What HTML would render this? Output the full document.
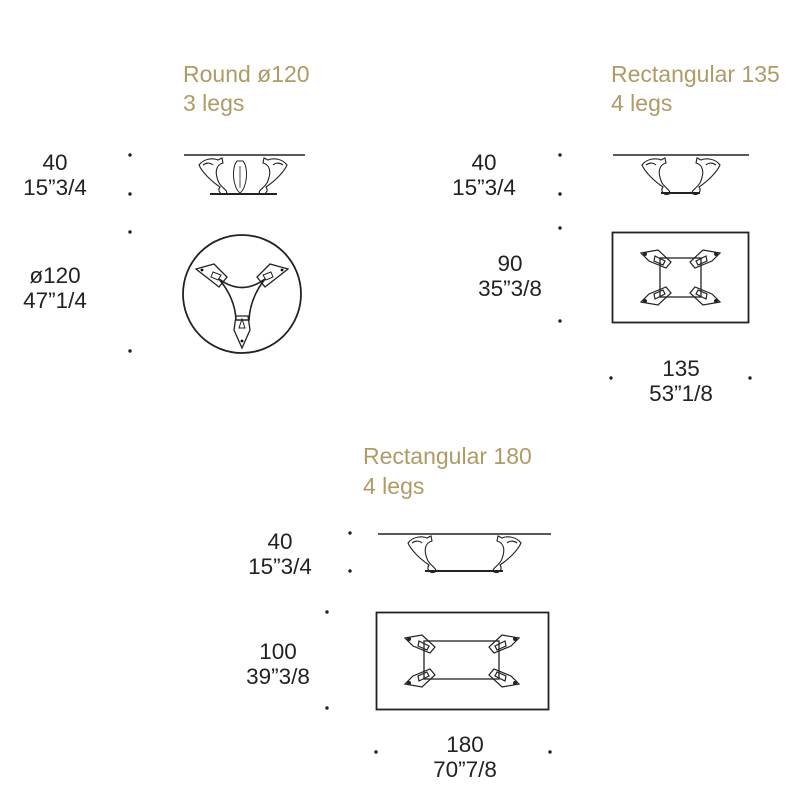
<!DOCTYPE html>
<html><head><style>
html,body{margin:0;padding:0;background:#fff;}
svg{display:block}
.g{font-family:"Liberation Sans",sans-serif;font-size:23px;fill:#b09a66}
.d{font-family:"Liberation Sans",sans-serif;font-size:22.5px;fill:#222;text-anchor:middle}
</style></head><body>
<svg width="800" height="800" viewBox="0 0 800 800" xmlns="http://www.w3.org/2000/svg">
<defs>
<g id="leg" fill="none" stroke="#222" stroke-width="1.1">
<path d="M1,8 C6,1 16,1 20,3 L24,1 L25,6 C18,8 16,15 21,26 C25,32 31,34 28,37 C23,39 19,34 22,30 C13,24 4,15 1,8 Z"/>
<path d="M5,8 C9,5 13,6 15,8"/>
</g>
<g id="tl" fill="none" stroke="#222" stroke-width="1.2">
<path d="M0,3 L17,0 L30,12 L25,18 L8,11 Z"/>
<path d="M14,6 L24,11 L22,15 L13,11 Z"/>
<circle cx="4" cy="4" r="1.4" fill="#222"/>
</g>
</defs>

<!-- Round -->
<text class="g" x="183" y="82">Round ø120</text>
<text class="g" x="183" y="111">3 legs</text>
<text class="d" x="55" y="170">40</text>
<text class="d" x="55" y="195">15”3/4</text>
<text class="d" x="55" y="283">ø120</text>
<text class="d" x="55" y="308">47”1/4</text>
<g fill="#222">
<circle cx="130" cy="155" r="1.7"/><circle cx="130" cy="194" r="1.7"/>
<circle cx="130" cy="232" r="1.7"/><circle cx="130" cy="351" r="1.7"/>
</g>
<line x1="184" y1="155" x2="305" y2="155" stroke="#222" stroke-width="1.6"/>
<line x1="210" y1="194" x2="277" y2="194" stroke="#222" stroke-width="2"/>
<use href="#leg" x="198" y="157"/>
<use href="#leg" transform="translate(288,157) scale(-1,1)"/>
<path d="M237,161 C231,168 233,188 240,193 C247,188 249,168 243,161 Z" fill="none" stroke="#222"/>
<path d="M240,166 L240,188" stroke="#222" stroke-width="0.8"/>
<circle cx="242" cy="294" r="59" fill="none" stroke="#222" stroke-width="1.8"/>
<path d="M219,279 Q242,296 265,279 Q250,298 249,320 L236,320 Q235,298 219,279 Z" fill="none" stroke="#222" stroke-width="1.6"/>
<path d="M196,269 L214,264 L227,277 L219,287 Z" fill="none" stroke="#222" stroke-width="1.3"/>
<path d="M213,272 L221,275 L218,280 L211,277 Z" fill="none" stroke="#222" stroke-width="1"/>
<path d="M288,269 L270,264 L257,277 L265,287 Z" fill="none" stroke="#222" stroke-width="1.3"/>
<path d="M271,272 L263,275 L266,280 L273,277 Z" fill="none" stroke="#222" stroke-width="1"/>
<path d="M242,348 L234,330 L236,316 L248,316 L250,330 Z" fill="none" stroke="#222" stroke-width="1.3"/>
<path d="M242,319 L239,328 L245,328 Z" fill="none" stroke="#222" stroke-width="1"/>
<circle cx="202" cy="270" r="1.4"/><circle cx="282" cy="270" r="1.4"/><circle cx="242" cy="341" r="1.4"/>

<!-- Rect 135 -->
<text class="g" x="611" y="82">Rectangular 135</text>
<text class="g" x="611" y="111">4 legs</text>
<text class="d" x="484" y="170">40</text>
<text class="d" x="484" y="195">15”3/4</text>
<text class="d" x="510" y="271">90</text>
<text class="d" x="510" y="296">35”3/8</text>
<text class="d" x="681" y="376">135</text>
<text class="d" x="681" y="401">53”1/8</text>
<g fill="#222">
<circle cx="560" cy="155" r="1.7"/><circle cx="560" cy="194" r="1.7"/>
<circle cx="560" cy="228" r="1.7"/><circle cx="560" cy="321" r="1.7"/>
<circle cx="611" cy="378" r="1.7"/><circle cx="750" cy="378" r="1.7"/>
</g>
<line x1="613" y1="155" x2="749" y2="155" stroke="#222" stroke-width="1.6"/>
<line x1="661" y1="193" x2="700" y2="193" stroke="#222" stroke-width="2"/>
<use href="#leg" x="641" y="157"/>
<use href="#leg" transform="translate(721,157) scale(-1,1)"/>
<rect x="612.5" y="232.5" width="136" height="90" fill="none" stroke="#222" stroke-width="1.8"/>
<rect x="660" y="258" width="41" height="39" fill="none" stroke="#222" stroke-width="1.3"/>
<use href="#tl" x="641" y="250"/>
<use href="#tl" transform="translate(720,250) scale(-1,1)"/>
<use href="#tl" transform="translate(641,305) scale(1,-1)"/>
<use href="#tl" transform="translate(720,305) scale(-1,-1)"/>

<!-- Rect 180 -->
<text class="g" x="363" y="464">Rectangular 180</text>
<text class="g" x="363" y="494">4 legs</text>
<text class="d" x="280" y="549">40</text>
<text class="d" x="280" y="574">15”3/4</text>
<text class="d" x="278" y="659">100</text>
<text class="d" x="278" y="684">39”3/8</text>
<text class="d" x="465" y="752">180</text>
<text class="d" x="465" y="777">70”7/8</text>
<g fill="#222">
<circle cx="350" cy="533" r="1.7"/><circle cx="350" cy="571" r="1.7"/>
<circle cx="327" cy="612" r="1.7"/><circle cx="327" cy="708" r="1.7"/>
<circle cx="376" cy="752" r="1.7"/><circle cx="550" cy="752" r="1.7"/>
</g>
<line x1="378" y1="534" x2="551" y2="534" stroke="#222" stroke-width="1.6"/>
<line x1="425" y1="571" x2="503" y2="571" stroke="#222" stroke-width="2"/>
<use href="#leg" x="407" y="535"/>
<use href="#leg" transform="translate(522,535) scale(-1,1)"/>
<rect x="376.5" y="612.5" width="172" height="97" fill="none" stroke="#222" stroke-width="1.8"/>
<rect x="424" y="641" width="75" height="38" fill="none" stroke="#222" stroke-width="1.3"/>
<use href="#tl" x="405" y="635"/>
<use href="#tl" transform="translate(519,635) scale(-1,1)"/>
<use href="#tl" transform="translate(405,687) scale(1,-1)"/>
<use href="#tl" transform="translate(519,687) scale(-1,-1)"/>
</svg>
</body></html>
